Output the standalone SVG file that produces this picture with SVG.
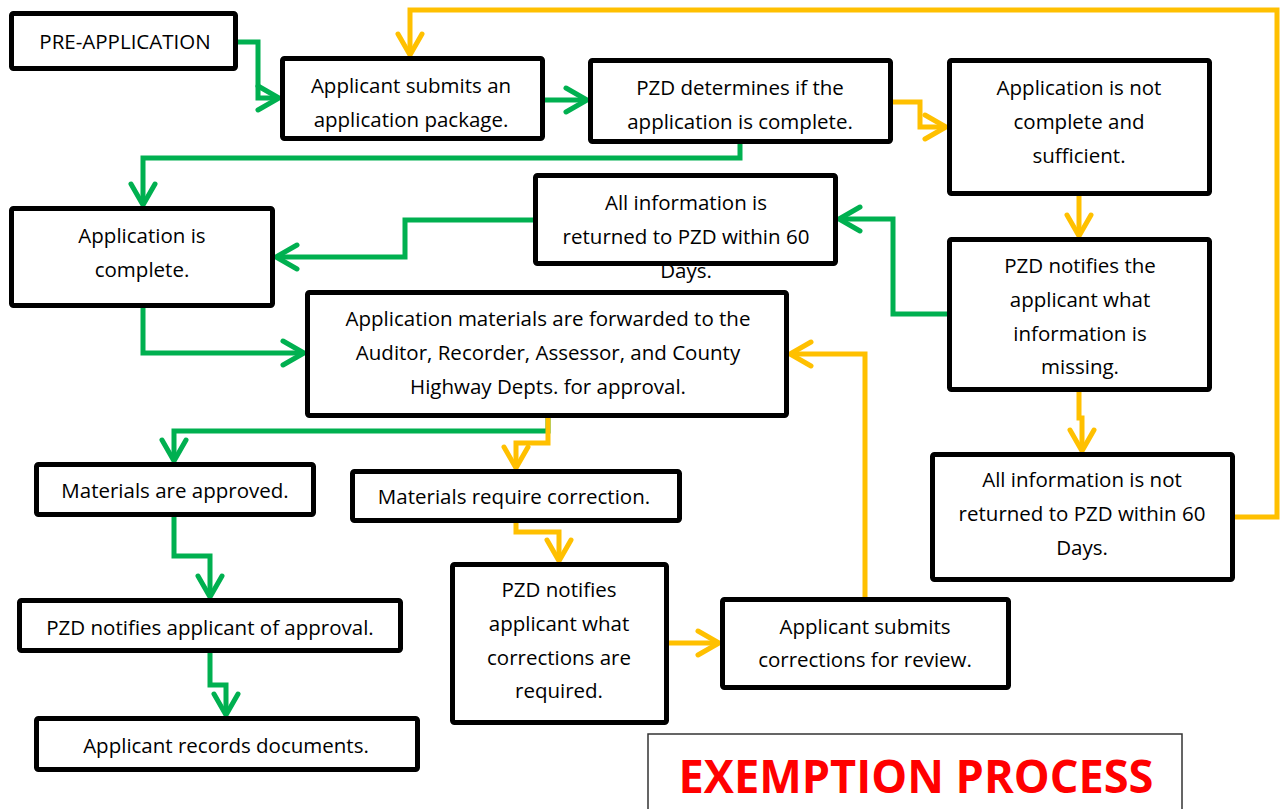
<svg xmlns="http://www.w3.org/2000/svg" width="1280" height="809" viewBox="0 0 1280 809">
  <style>
    .box { fill: #fff; stroke: #000; stroke-width: 5; }
    .edge { fill: none; stroke: #000; stroke-width: 5; }
    .bg { fill: #fff; }
    .t { font-family: "Open Sans", "Noto Sans", sans-serif; font-size: 20.5px; fill: #000; text-anchor: middle; }
    .g { fill: none; stroke: #00B050; stroke-width: 5; stroke-linejoin: miter; }
    .y { fill: none; stroke: #FFC000; stroke-width: 5; stroke-linejoin: miter; }
    .title { font-family: "Open Sans", "Noto Sans", sans-serif; font-weight: bold; font-size: 46px; fill: #FF0000; text-anchor: middle; }
  </style>
  <defs>
    <marker id="ag" markerUnits="userSpaceOnUse" viewBox="-26 -16 30 32" refX="0" refY="0" markerWidth="30" markerHeight="32" orient="auto" overflow="visible">
      <path d="M-21,-12 L0,0 L-21,12" fill="none" stroke="#00B050" stroke-width="5" stroke-linecap="round" stroke-linejoin="miter"/>
    </marker>
    <marker id="ay" markerUnits="userSpaceOnUse" viewBox="-26 -16 30 32" refX="0" refY="0" markerWidth="30" markerHeight="32" orient="auto" overflow="visible">
      <path d="M-21,-12 L0,0 L-21,12" fill="none" stroke="#FFC000" stroke-width="5" stroke-linecap="round" stroke-linejoin="miter"/>
    </marker>
  </defs>

  <rect width="1280" height="809" fill="#fff"/>

  <!-- connectors: green (approval path) first, yellow (correction path) over it -->
  <g id="connectors">
    <path class="g" d="M238,42 H258 V98 H279" marker-end="url(#ag)"/>
    <path class="g" d="M545,100 H587" marker-end="url(#ag)"/>
    <path class="g" d="M740,144 V158 H143 V205" marker-end="url(#ag)"/>
    <path class="g" d="M947,314 H893 V219 H839" marker-end="url(#ag)"/>
    <path class="g" d="M533,220 H405 V257 H276" marker-end="url(#ag)"/>
    <path class="g" d="M143,308 V353 H304" marker-end="url(#ag)"/>
    <path class="g" d="M548,418 V431 H174 V461" marker-end="url(#ag)"/>
    <path class="g" d="M174,517 V556 H210 V597" marker-end="url(#ag)"/>
    <path class="g" d="M210,653 V685 H226 V715" marker-end="url(#ag)"/>

    <path class="y" d="M893,102 H920 V127 H946" marker-end="url(#ay)"/>
    <path class="y" d="M1235,517 H1277 V10 H410 V55" marker-end="url(#ay)"/>
    <path class="y" d="M1079,196 V236" marker-end="url(#ay)"/>
    <path class="y" d="M1079,392 V418 H1082 V451" marker-end="url(#ay)"/>
    <path class="y" d="M548,418 V443 H516 V468" marker-end="url(#ay)"/>
    <path class="y" d="M516,523 V532 H559 V561" marker-end="url(#ay)"/>
    <path class="y" d="M669,643 H719" marker-end="url(#ay)"/>
    <path class="y" d="M865,597 V354 H790" marker-end="url(#ay)"/>
  </g>

  <g id="pre-application">
    <rect class="box" x="11.5" y="13.5" width="224" height="55" rx="2"/>
    <text class="t" x="125" y="49">PRE-APPLICATION</text>
  </g>

  <g id="submit-package">
    <rect class="box" x="282.5" y="58.5" width="260" height="80" rx="2"/>
    <text class="t" x="411" y="93">Applicant submits an</text>
    <text class="t" x="411" y="127">application package.</text>
  </g>

  <g id="check-complete">
    <rect class="box" x="590.5" y="60.5" width="300" height="81" rx="2"/>
    <text class="t" x="740" y="95">PZD determines if the</text>
    <text class="t" x="740" y="129">application is complete.</text>
  </g>

  <g id="not-complete">
    <rect class="box" x="949.5" y="60.5" width="260" height="133" rx="2"/>
    <text class="t" x="1079" y="95">Application is not</text>
    <text class="t" x="1079" y="129">complete and</text>
    <text class="t" x="1079" y="163">sufficient.</text>
  </g>

  <g id="info-returned">
    <rect class="bg" x="535.5" y="175.5" width="300" height="88"/>
    <text class="t" x="686" y="210">All information is</text>
    <text class="t" x="686" y="244">returned to PZD within 60</text>
    <text class="t" x="686" y="278">Days.</text>
    <rect class="edge" x="535.5" y="175.5" width="300" height="88" rx="2"/>
  </g>

  <g id="complete">
    <rect class="box" x="11.5" y="208.5" width="261" height="97" rx="2"/>
    <text class="t" x="142" y="243">Application is</text>
    <text class="t" x="142" y="277">complete.</text>
  </g>

  <g id="notify-missing">
    <rect class="box" x="949.5" y="239.5" width="260" height="150" rx="2"/>
    <text class="t" x="1080" y="273">PZD notifies the</text>
    <text class="t" x="1080" y="307">applicant what</text>
    <text class="t" x="1080" y="341">information is</text>
    <text class="t" x="1080" y="374">missing.</text>
  </g>

  <g id="forwarded">
    <rect class="box" x="307.5" y="292.5" width="479" height="123" rx="2"/>
    <text class="t" x="548" y="326">Application materials are forwarded to the</text>
    <text class="t" x="548" y="360">Auditor, Recorder, Assessor, and County</text>
    <text class="t" x="548" y="394">Highway Depts. for approval.</text>
  </g>

  <g id="info-not-returned">
    <rect class="box" x="932.5" y="454.5" width="300" height="125" rx="2"/>
    <text class="t" x="1082" y="487">All information is not</text>
    <text class="t" x="1082" y="521">returned to PZD within 60</text>
    <text class="t" x="1082" y="555">Days.</text>
  </g>

  <g id="approved">
    <rect class="box" x="36.5" y="464.5" width="277" height="50" rx="2"/>
    <text class="t" x="175" y="498">Materials are approved.</text>
  </g>

  <g id="require-correction">
    <rect class="box" x="352.5" y="471.5" width="327" height="49" rx="2"/>
    <text class="t" x="514" y="504">Materials require correction.</text>
  </g>

  <g id="notify-approval">
    <rect class="box" x="19.5" y="600.5" width="381" height="50" rx="2"/>
    <text class="t" x="210" y="635">PZD notifies applicant of approval.</text>
  </g>

  <g id="records">
    <rect class="box" x="36.5" y="718.5" width="381" height="51" rx="2"/>
    <text class="t" x="226" y="753">Applicant records documents.</text>
  </g>

  <g id="notify-corrections">
    <rect class="box" x="452.5" y="564.5" width="214" height="158" rx="2"/>
    <text class="t" x="559" y="597">PZD notifies</text>
    <text class="t" x="559" y="631">applicant what</text>
    <text class="t" x="559" y="665">corrections are</text>
    <text class="t" x="559" y="698">required.</text>
  </g>

  <g id="submit-corrections">
    <rect class="box" x="722.5" y="599.5" width="286" height="88" rx="2"/>
    <text class="t" x="865" y="634">Applicant submits</text>
    <text class="t" x="865" y="667">corrections for review.</text>
  </g>

  <g id="title">
    <rect x="648" y="734" width="534" height="100" fill="#fff" stroke="#333" stroke-width="1.5"/>
    <text class="title" x="916" y="793" textLength="475" lengthAdjust="spacingAndGlyphs">EXEMPTION PROCESS</text>
  </g>
</svg>
